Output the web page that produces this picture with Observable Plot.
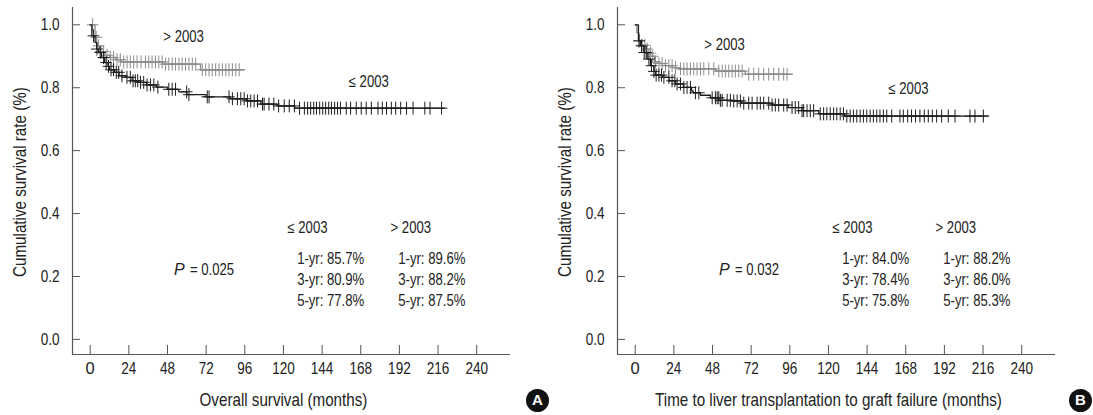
<!DOCTYPE html>
<html><head><meta charset="utf-8">
<script src="https://cdn.jsdelivr.net/npm/d3@7"></script>
<script src="https://cdn.jsdelivr.net/npm/@observablehq/plot@0.6"></script>
<style>
body{margin:0;background:#fff;}
#wrap{display:flex;width:1093px;height:415px;}
#wrap svg{font-family:"Liberation Sans",Arial,sans-serif;overflow:visible;}
</style></head><body><div id="wrap"></div>
<script>
// ---------- data ----------
const xTicks = [0, 24, 48, 72, 96, 120, 144, 168, 192, 216, 240];
const yTicks = [0, 0.2, 0.4, 0.6, 0.8, 1.0];
const groupLabels = ["\u2264 2003", "> 2003"];
const panelLetters = ["A", "B"];
const xTitles = ["Overall survival (months)", "Time to liver transplantation to graft failure (months)"];
const yTitle = "Cumulative survival rate (%)";
const pValues = ["= 0.025", "= 0.032"];
const aLowStats = ["1-yr: 85.7%", "3-yr: 80.9%", "5-yr: 77.8%"];
const aHighStats = ["1-yr: 89.6%", "3-yr: 88.2%", "5-yr: 87.5%"];
const bLowStats = ["1-yr: 84.0%", "3-yr: 78.4%", "5-yr: 75.8%"];
const bHighStats = ["1-yr: 88.2%", "3-yr: 86.0%", "5-yr: 85.3%"];

// Panel A, <= 2003
const aLowTime = [0, 1, 3, 4, 5, 7, 9, 11, 12, 15, 18, 22, 26, 30, 35, 41, 48, 55, 60, 72, 87, 97, 106, 116, 127];
const aLowSurv = [1.0, 0.965, 0.944, 0.923, 0.912, 0.896, 0.88, 0.868, 0.857, 0.849, 0.838, 0.833, 0.822, 0.817, 0.809, 0.802, 0.795, 0.787, 0.778, 0.771, 0.765, 0.758, 0.748, 0.742, 0.735];
const aLowEnd = 220;
const aLowCensor = [2, 4.2, 6.2, 8.3, 9.9, 11.4, 12.9, 14.5, 16.2, 17.7, 19.7, 22.8, 24.9, 26.6, 28, 29.5, 31.2, 33.2, 35.3, 37.4, 39.5, 42, 48.8, 50.9, 53, 59.9, 61.3, 72.7, 73.8, 86.2, 88.3, 91.4, 93.5, 95.6, 97.7, 99.7, 101.8, 103.9, 107, 108, 111, 114, 117, 120.5, 123.6, 126.8, 130, 133, 135, 136.9, 138.8, 140.5, 142.5, 144.4, 146.2, 148.1, 149.8, 151.8, 153.6, 155.4, 159, 161.7, 165.2, 168.3, 171.4, 174.6, 178.7, 181.4, 184, 187, 189.7, 192.8, 196.4, 200.5, 207.8, 211, 218.2];
// Panel A, > 2003
const aHighTime = [0, 3, 4, 6, 9, 12, 16, 19, 45, 68.5];
const aHighSurv = [1.0, 0.96, 0.933, 0.915, 0.903, 0.896, 0.889, 0.882, 0.875, 0.857];
const aHighEnd = 95.5;
const aHighCensor = [1.5, 3.7, 5.2, 6.7, 8.3, 10.4, 12.5, 14.5, 16.6, 18.7, 20.8, 22.9, 24.9, 27, 29.1, 31.6, 34.3, 36.4, 38.4, 40.5, 42.6, 44.7, 46.8, 48.8, 50.9, 53, 55.1, 57.1, 59.2, 61.3, 63.4, 65.5, 69.6, 71.7, 73.8, 75.8, 77.9, 80, 82.1, 84.2, 86.2, 88.3, 90.4, 92.5];
// Panel B, <= 2003
const bLowTime = [0, 2, 3.3, 5.4, 7.4, 9.5, 11.6, 12.5, 16.7, 21, 25, 30, 35, 36, 40.5, 46.7, 52, 60, 66, 85, 95, 103.5, 114, 130];
const bLowSurv = [1.0, 0.949, 0.933, 0.912, 0.891, 0.87, 0.852, 0.84, 0.833, 0.822, 0.812, 0.801, 0.79, 0.784, 0.776, 0.768, 0.76, 0.758, 0.751, 0.745, 0.737, 0.727, 0.717, 0.71];
const bLowEnd = 219;
const bLowCensor = [2.3, 3.9, 5.6, 6.8, 8.5, 10.1, 11.6, 13, 14.7, 16.3, 17.8, 20.9, 22.9, 24.6, 26, 28.1, 30.2, 32.2, 34.3, 37.4, 39.5, 47.8, 49.8, 50.9, 51.9, 52.9, 54, 57.1, 59.1, 61.2, 63.3, 65.3, 67.4, 70.5, 72.6, 75.7, 77.7, 79.8, 82.9, 85, 87, 89.1, 92.2, 94.3, 97.4, 99.4, 101.5, 103.6, 104.6, 106.7, 108.7, 110.8, 114.9, 117, 119, 121.1, 123.2, 125.2, 127.3, 129.3, 131.4, 133.5, 135.5, 137.6, 139.7, 141.7, 143.8, 145.9, 147.9, 150, 152, 154.1, 156.2, 159.3, 164.4, 166.5, 169.2, 171.6, 174.1, 176.8, 179.5, 182, 184.5, 187.2, 190.3, 194.4, 198.6, 207.9, 211, 216.2];
// Panel B, > 2003
const bHighTime = [0, 1, 2.3, 4, 6.4, 8.5, 10.5, 12, 14.7, 18.8, 23, 27, 50, 68.4];
const bHighSurv = [1.0, 0.975, 0.949, 0.935, 0.923, 0.91, 0.9, 0.882, 0.877, 0.87, 0.864, 0.86, 0.853, 0.843];
const bHighEnd = 97.4;
const bHighCensor = [2.7, 4.3, 6, 7.4, 9.5, 10.9, 12.6, 14.7, 16.7, 18.8, 20.9, 22.9, 25, 28.1, 30.2, 32.2, 34.3, 36.4, 38.4, 40.5, 42.6, 45.7, 48.8, 51.9, 54, 56, 58.1, 60.2, 62.2, 64.3, 66.4, 70.5, 73.6, 76.7, 79.8, 82.9, 86, 89.1, 92.2, 94.3];

// ---------- helpers ----------
function stepRows(times, surv, end) {
  const rows = times.map((t, i) => ({t, s: surv[i]}));
  rows.push({t: end, s: surv[surv.length - 1]});
  return rows;
}
function censorRows(times, surv, cens) {
  return cens.map(c => {
    const i = Math.max(0, d3.bisectRight(times, c) - 1);
    return {t: c, s: surv[i]};
  });
}
const crossSym = {
  draw(ctx, size) {
    const r = Math.sqrt(size / Math.PI);
    ctx.moveTo(-r * 0.9, 0); ctx.lineTo(r * 0.9, 0);
    ctx.moveTo(0, -r); ctx.lineTo(0, r);
  }
};

const BLACK = "#1e1e1e", GREY = "#8c8c8c", AXIS = "#555", TXT = "#222";
const xMin = -11, xMax = 261, yMin = -0.048, yMax = 1.055;

function panel(cfg) {
  const low = stepRows(cfg.lowTime, cfg.lowSurv, cfg.lowEnd);
  const high = stepRows(cfg.highTime, cfg.highSurv, cfg.highEnd);
  const lowC = censorRows(cfg.lowTime, cfg.lowSurv, cfg.lowCensor);
  const highC = censorRows(cfg.highTime, cfg.highSurv, cfg.highCensor);
  const statY = [0.255, 0.188, 0.121];
  const lowStatRows = cfg.lowStats.map((s, i) => ({s, y: statY[i]}));
  const highStatRows = cfg.highStats.map((s, i) => ({s, y: statY[i]}));
  const fs = 16;
  return Plot.plot({
    width: cfg.width, height: 415,
    marginLeft: 72, marginRight: cfg.width - 510, marginTop: 7, marginBottom: 61,
    style: {color: TXT, overflow: "visible"},
    x: {domain: [xMin, xMax], label: null},
    y: {domain: [yMin, yMax], label: null},
    marks: [
      Plot.ruleX([xMin], {stroke: AXIS, strokeWidth: 1.2}),
      Plot.ruleY([yMin], {stroke: AXIS, strokeWidth: 1.2}),
      Plot.ruleX(xTicks, {x: d => d, y1: yMin, y2: yMin, insetTop: -9, stroke: AXIS}),
      Plot.ruleY(yTicks, {y: d => d, x1: xMin, x2: xMin, insetRight: -8, stroke: AXIS}),
      Plot.axisX({ticks: xTicks, tickSize: 0, tickPadding: 8, fontSize: 16.5, label: null, fill: TXT}),
      Plot.axisY({ticks: yTicks, tickSize: 0, tickPadding: 13, fontSize: 16.5, label: null, tickFormat: d3.format(".1f"), fill: TXT}),
      Plot.text([cfg.xTitle], {x: (xTicks[0] + xTicks[xTicks.length - 1]) / 2, frameAnchor: "bottom", dy: 46, textAnchor: "middle", lineAnchor: "middle", fontSize: 18.5, fill: TXT}),
      Plot.text([yTitle], {y: (yTicks[0] + yTicks[yTicks.length - 1]) / 2, frameAnchor: "left", dx: -52, rotate: -90, textAnchor: "middle", lineAnchor: "middle", fontSize: 18.5, fill: TXT}),
      Plot.line(high, {x: "t", y: "s", curve: "step-after", stroke: GREY, strokeWidth: 1.3}),
      Plot.dot(highC, {x: "t", y: "s", symbol: crossSym, r: 6.5, stroke: GREY, strokeWidth: 1, fill: "none"}),
      Plot.line(low, {x: "t", y: "s", curve: "step-after", stroke: BLACK, strokeWidth: 1.3}),
      Plot.dot(lowC, {x: "t", y: "s", symbol: crossSym, r: 6.5, stroke: BLACK, strokeWidth: 1, fill: "none"}),
      Plot.text([groupLabels[1]], {x: cfg.highLabelX, y: cfg.highLabelY, fontSize: fs, fill: TXT}),
      Plot.text([groupLabels[0]], {x: cfg.lowLabelX, y: cfg.lowLabelY, fontSize: fs, fill: TXT}),
      Plot.text([groupLabels[0]], {x: 122.5, y: 0.354, textAnchor: "start", fontSize: fs, fill: TXT}),
      Plot.text([groupLabels[1]], {x: 186.5, y: 0.354, textAnchor: "start", fontSize: fs, fill: TXT}),
      Plot.text(lowStatRows, {x: 128.5, y: "y", text: "s", textAnchor: "start", fontSize: fs, fill: TXT}),
      Plot.text(highStatRows, {x: 191.3, y: "y", text: "s", textAnchor: "start", fontSize: fs, fill: TXT}),
      Plot.text(["P"], {x: 52, y: 0.22, textAnchor: "start", fontSize: fs, fontStyle: "italic", fill: TXT}),
      Plot.text([cfg.pValue], {x: 52, y: 0.22, dx: 16, textAnchor: "start", fontSize: fs, fill: TXT}),
      Plot.dot([cfg.letter], {frameAnchor: "bottom-right", dx: cfg.badgeDx, dy: 46, r: 11.5, fill: "#111", stroke: "none"}),
      Plot.text([cfg.letter], {frameAnchor: "bottom-right", dx: cfg.badgeDx, dy: 46, textAnchor: "middle", lineAnchor: "middle", fontSize: 15, fontWeight: "bold", fill: "white"})
    ]
  });
}

// narrow the Arial-metric font to mimic a condensed face, keeping each text's anchor point
function condense(svg, f) {
  svg.querySelectorAll("text").forEach(t => {
    if (t.textContent.length < 2) return;
    const b0 = t.getBBox();
    const len = t.getComputedTextLength();
    t.setAttribute("textLength", (len * f).toFixed(2));
    t.setAttribute("lengthAdjust", "spacingAndGlyphs");
    const b1 = t.getBBox();
    const anchor = getComputedStyle(t).textAnchor;
    let target;
    if (anchor === "middle") target = (b0.x + b0.width / 2) - (b1.x + b1.width / 2);
    else if (anchor === "end") target = (b0.x + b0.width) - (b1.x + b1.width);
    else target = b0.x - b1.x;
    if (Math.abs(target) > 0.3) {
      const x = parseFloat(t.getAttribute("x") || "0");
      t.setAttribute("x", (x + target).toFixed(2));
    }
  });
}

const wrap = document.getElementById("wrap");
const svgA = panel({
  width: 545, letter: panelLetters[0], xTitle: xTitles[0], pValue: pValues[0], badgeDx: 27,
  lowTime: aLowTime, lowSurv: aLowSurv, lowEnd: aLowEnd, lowCensor: aLowCensor,
  highTime: aHighTime, highSurv: aHighSurv, highEnd: aHighEnd, highCensor: aHighCensor,
  lowStats: aLowStats, highStats: aHighStats,
  highLabelX: 58, highLabelY: 0.962, lowLabelX: 173, lowLabelY: 0.819
});
const svgB = panel({
  width: 548, letter: panelLetters[1], xTitle: xTitles[1], pValue: pValues[1], badgeDx: 25,
  lowTime: bLowTime, lowSurv: bLowSurv, lowEnd: bLowEnd, lowCensor: bLowCensor,
  highTime: bHighTime, highSurv: bHighSurv, highEnd: bHighEnd, highCensor: bHighCensor,
  lowStats: bLowStats, highStats: bHighStats,
  highLabelX: 55.5, highLabelY: 0.937, lowLabelX: 169.7, lowLabelY: 0.797
});
wrap.appendChild(svgA);
wrap.appendChild(svgB);
condense(svgA, 0.82);
condense(svgB, 0.82);
</script></body></html>
